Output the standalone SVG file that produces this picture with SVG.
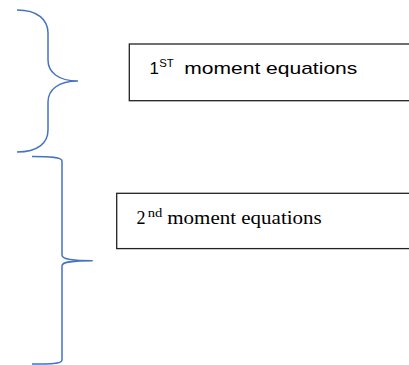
<svg xmlns="http://www.w3.org/2000/svg" width="409" height="365" viewBox="0 0 409 365">
<style>
.brace{fill:none;stroke:#4472C4;stroke-width:1.5}
.box{fill:#fff;stroke:#222;stroke-width:1.3}
.a{font-family:"Liberation Sans",Arial,sans-serif;fill:#000}
.t{font-family:"Liberation Serif","Times New Roman",serif;fill:#000}
</style>
<rect width="409" height="365" fill="#fff"/>
<g id="connectors">
<path class="brace" d="M17,10 C38,10 48,20 48,33 L48,60 C48,72 58,81 78,81 C58,81 48,90 48,102 L48,130 C48,143 38,152 17,152"/>
<path class="brace" d="M32,156.5 C50,156.5 62,157 62,161 L62,255 C62,259 70,260.7 92.7,260.7 C70,260.7 62,262 62,266 L62,360 C62,364 50,364 32,364"/>
</g>
<g id="node1">
<rect class="box" x="129.3" y="44" width="290" height="56.7"/>
<text class="a" font-size="17"><tspan x="149.5" y="74">1</tspan><tspan x="159.2" y="67" font-size="11" textLength="14.5" lengthAdjust="spacingAndGlyphs">ST</tspan><tspan x="184.3" y="74" textLength="173" lengthAdjust="spacingAndGlyphs">moment equations</tspan></text>
</g>
<g id="node2">
<rect class="box" x="116.7" y="193.3" width="300" height="55.3"/>
<text class="t" font-size="18"><tspan x="136.5" y="224.3">2</tspan><tspan x="147.7" y="217" font-size="12" textLength="14.6" lengthAdjust="spacingAndGlyphs">nd</tspan><tspan x="167.3" y="224.3" textLength="154.4" lengthAdjust="spacingAndGlyphs">moment equations</tspan></text>
</g>
</svg>
